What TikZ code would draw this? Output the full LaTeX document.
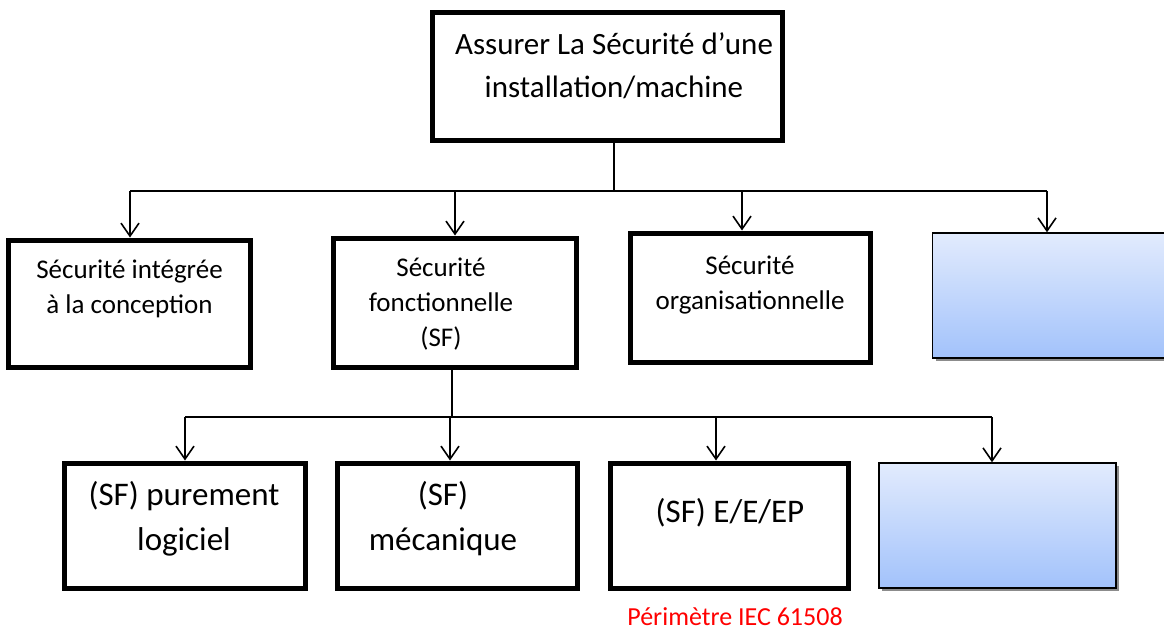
\documentclass[tikz,border=0pt]{standalone}
\usepackage{fontspec}
\setmainfont{Carlito}
\usetikzlibrary{arrows.meta,shadows}
\definecolor{bluetop}{HTML}{E2EBFD}
\definecolor{bluebot}{HTML}{A2C2FB}
\tikzset{
  thickbox/.style={draw=black, line width=5pt, fill=white, inner sep=0pt},
  bluebox/.style={draw=black, line width=1.4pt, inner sep=0pt, top color=bluetop, bottom color=bluebot,
    drop shadow={shadow xshift=3pt, shadow yshift=-3pt, fill=black!45, opacity=1}},
  conn/.style={draw=black, line width=1.6pt},
  arr/.style={draw=black, line width=1.6pt, -{Straight Barb[length=13pt, width=18pt, line width=1.6pt]}},
  txtA/.style={align=center, inner sep=0pt, font=\fontsize{31}{43}\selectfont},
  txtB/.style={align=center, inner sep=0pt, font=\fontsize{27}{35}\selectfont},
  txtC/.style={align=center, inner sep=0pt, font=\fontsize{33}{45}\selectfont},
  redtxt/.style={inner sep=0pt, text=red, font=\fontsize{26}{30}\selectfont}
}
\begin{document}
\begin{tikzpicture}[x=1pt, y=-1pt]
\useasboundingbox (0,0) rectangle (1164,633);
% boxes
\node[thickbox, minimum width=350pt, minimum height=128pt] (top) at (607.5,76) {};
\node[thickbox, minimum width=242pt, minimum height=127pt] (a) at (129,303.5) {};
\node[thickbox, minimum width=243pt, minimum height=129pt] (b) at (454.5,302.5) {};
\node[thickbox, minimum width=240pt, minimum height=129pt] (c) at (750,297.5) {};
\node[bluebox, minimum width=235pt, minimum height=125pt] (d) at (1050,295.5) {};
\node[thickbox, minimum width=241pt, minimum height=125pt] (e) at (185,525.5) {};
\node[thickbox, minimum width=240pt, minimum height=125pt] (f) at (457,525.5) {};
\node[thickbox, minimum width=238pt, minimum height=125pt] (g) at (729,525.5) {};
\node[bluebox, minimum width=237pt, minimum height=125pt] (h) at (997.5,525.5) {};
% texts
\node[txtA] (ttop) at (614,66) {Assurer La Sécurité d’une\\installation/machine};
\node[txtB] (ta) at (129.5,289) {Sécurité intégrée\\à la conception};
\node[txtB] (tb) at (441,304) {Sécurité\\fonctionnelle\\(SF)};
\node[txtB] (tc) at (750,285) {Sécurité\\organisationnelle};
\node[txtC] (te) at (184,519) {(SF) purement\\logiciel};
\node[txtC] (tf) at (443,519) {(SF)\\mécanique};
\node[txtC] (tg) at (730,513) {(SF) E/E/EP};
\node[redtxt] (red) at (735,617) {Périmètre IEC 61508};
% bus 1
\coordinate (j1) at (614,191);
\coordinate (b1l) at (130,191);
\coordinate (b1r) at (1047,191);
\draw[conn] (top.south -| j1) -- (j1);
\draw[conn] (b1l) -- (b1r);
\coordinate (xb) at (455,0);
\coordinate (xc) at (742,0);
\draw[arr] (b1l) -- (b1l |- a.north);
\draw[arr] (b1l -| xb) -- (xb |- b.north);
\draw[arr] (b1l -| xc) -- (xc |- c.north);
\draw[arr] (b1r) -- (b1r |- d.north);
% bus 2
\coordinate (j2) at (452,417);
\coordinate (b2l) at (185,417);
\coordinate (b2r) at (992,417);
\draw[conn] (b.south -| j2) -- (j2);
\draw[conn] (b2l) -- (b2r);
\coordinate (xf) at (450,0);
\coordinate (xg) at (716,0);
\draw[arr] (b2l) -- (b2l |- e.north);
\draw[arr] (b2l -| xf) -- (xf |- f.north);
\draw[arr] (b2l -| xg) -- (xg |- g.north);
\draw[arr] (b2r) -- (b2r |- h.north);
\end{tikzpicture}
\end{document}
